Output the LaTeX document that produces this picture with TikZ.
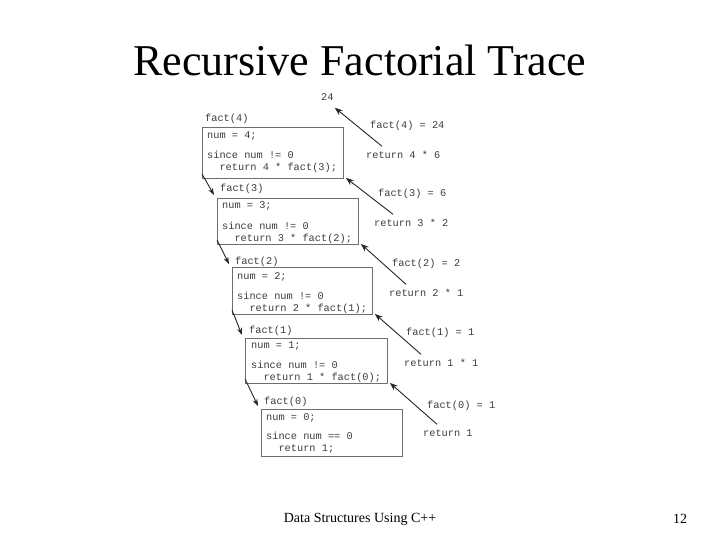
\documentclass[tikz,border=0pt]{standalone}
\usepackage{fontspec}
\setmainfont{Liberation Serif}
\newfontfamily\codefont{Liberation Mono}
\usetikzlibrary{arrows.meta,calc}
\definecolor{boxgray}{RGB}{110,110,110}
\definecolor{codegray}{RGB}{60,60,60}
\tikzset{
  codebox/.style={draw=boxgray,line width=0.9pt,rectangle,anchor=north west,inner sep=0pt},
  code/.style={anchor=west,inner sep=0pt,text height=7pt,text depth=2pt,font=\codefont\fontsize{10.3}{12}\selectfont,text=codegray},
  callarrow/.style={-{Stealth[length=7pt,width=5pt]},line width=0.9pt,black!85},
  retarrow/.style={-{Stealth[length=8pt,width=6pt]},line width=0.9pt,black!85},
}
\begin{document}
\begin{tikzpicture}[x=1pt,y=-1pt]
\useasboundingbox (0,0) rectangle (720,540);
% title and footer
\node[font=\fontsize{44}{48}\selectfont] (title) at (360,60) {Recursive Factorial Trace};
\node[font=\fontsize{14}{16}\selectfont] (foot) at (360,519) {Data Structures Using C++};
\node[font=\fontsize{14}{16}\selectfont] (page) at (680,519) {12};

% boxes
\node[codebox,minimum width=141pt,minimum height=51pt] (b4) at (202,127) {};
\node[codebox,minimum width=141pt,minimum height=46pt] (b3) at (217,198) {};
\node[codebox,minimum width=140pt,minimum height=47pt] (b2) at (232,267) {};
\node[codebox,minimum width=142pt,minimum height=45pt] (b1) at (245,338) {};
\node[codebox,minimum width=141pt,minimum height=47pt] (b0) at (261,409) {};

% box labels and contents
\node[code] (l4) at (205,119) {fact(4)};
\node[code] (n4) at (207,136) {num = 4;};
\node[code] (s4) at (207,156) {since num != 0};
\node[code] (c4) at (207,168) {\ \ return 4 * fact(3);};

\node[code] (l3) at (220,189) {fact(3)};
\node[code] (n3) at (222,206) {num = 3;};
\node[code] (s3) at (222,227) {since num != 0};
\node[code] (c3) at (222,239) {\ \ return 3 * fact(2);};

\node[code] (l2) at (235,262) {fact(2)};
\node[code] (n2) at (237,277) {num = 2;};
\node[code] (s2) at (237,297) {since num != 0};
\node[code] (c2) at (237,309) {\ \ return 2 * fact(1);};

\node[code] (l1) at (249,331) {fact(1)};
\node[code] (n1) at (251,346) {num = 1;};
\node[code] (s1) at (251,366) {since num != 0};
\node[code] (c1) at (251,378) {\ \ return 1 * fact(0);};

\node[code] (l0) at (264,402) {fact(0)};
\node[code] (n0) at (266,418) {num = 0;};
\node[code] (s0) at (266,437) {since num == 0};
\node[code] (c0) at (266,449) {\ \ return 1;};

% right-hand labels
\node[code] (ans) at (321,98) {24};
\node[code] (f4) at (370,126) {fact(4) = 24};
\node[code] (r4) at (366,156) {return 4 * 6};
\node[code] (f3) at (378,194) {fact(3) = 6};
\node[code] (r3) at (374,224) {return 3 * 2};
\node[code] (f2) at (392,264) {fact(2) = 2};
\node[code] (r2) at (389,294) {return 2 * 1};
\node[code] (f1) at (406,333) {fact(1) = 1};
\node[code] (r1) at (404,364) {return 1 * 1};
\node[code] (f0) at (427,406) {fact(0) = 1};
\node[code] (r0) at (423,434) {return 1};

% call arrows
\draw[callarrow] ([yshift=5pt]b4.south west) -- ([shift={(-3pt,3pt)}]b3.north west);
\draw[callarrow] ([yshift=5pt]b3.south west) -- ([shift={(-3pt,3pt)}]b2.north west);
\draw[callarrow] ([yshift=5pt]b2.south west) -- ([shift={(-3pt,3pt)}]b1.north west);
\draw[callarrow] ([yshift=5pt]b1.south west) -- ([shift={(-3pt,3pt)}]b0.north west);

% return arrows
\draw[retarrow] ([shift={(16pt,5pt)}]r4.north west) -- ([shift={(1pt,-5pt)}]ans.south east);
\draw[retarrow] ([shift={(19pt,5pt)}]r3.north west) -- ([shift={(2pt,1pt)}]b4.south east);
\draw[retarrow] ([shift={(17pt,5pt)}]r2.north west) -- ([shift={(2pt,1pt)}]b3.south east);
\draw[retarrow] ([shift={(17pt,5pt)}]r1.north west) -- ([shift={(2pt,1pt)}]b2.south east);
\draw[retarrow] ([shift={(14pt,5pt)}]r0.north west) -- ([shift={(2pt,1pt)}]b1.south east);
\end{tikzpicture}
\end{document}
